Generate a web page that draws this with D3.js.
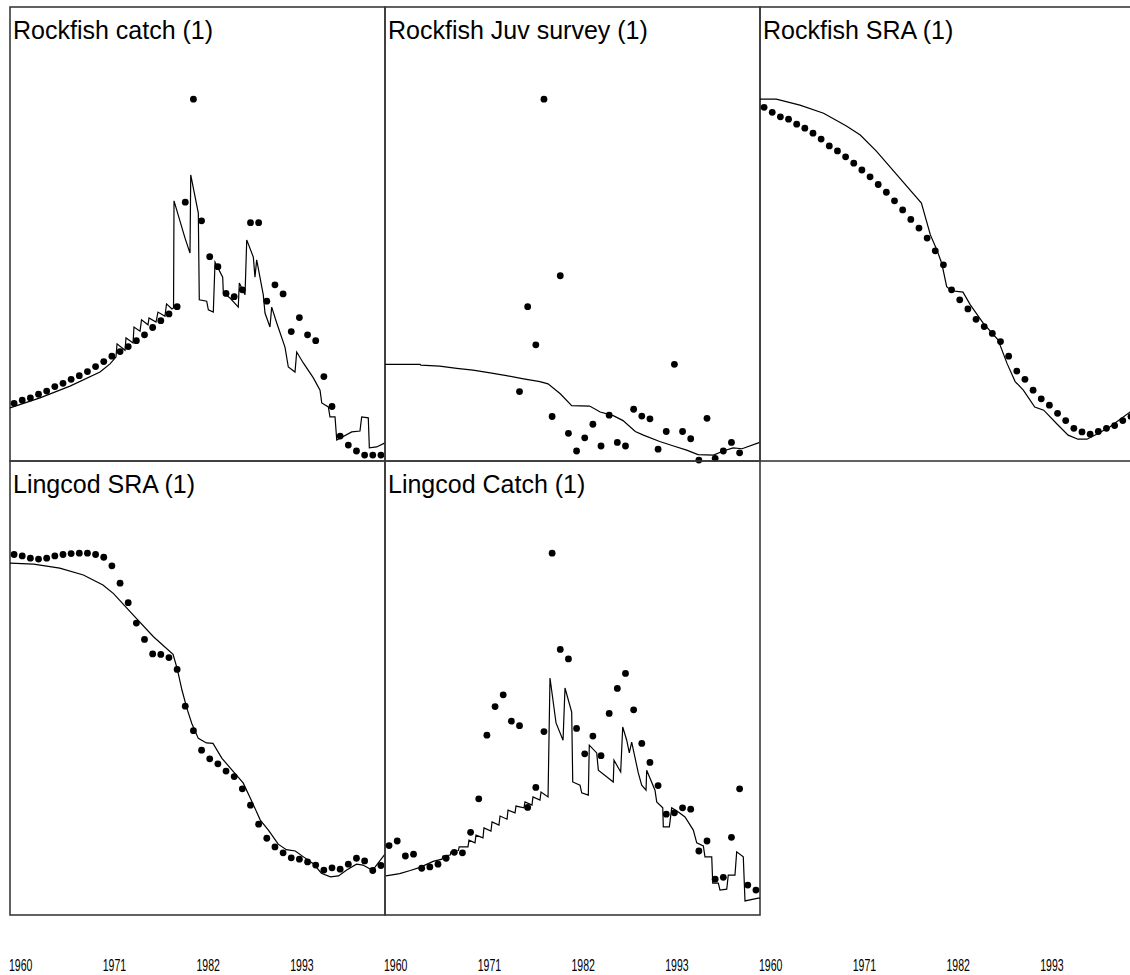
<!DOCTYPE html>
<html>
<head>
<meta charset="utf-8">
<script src="https://cdn.jsdelivr.net/npm/d3@7"></script>
<style>
  html, body { margin: 0; padding: 0; background: #fff; }
  svg { display: block; }
</style>
</head>
<body>
<svg id="chart" width="1130" height="975"></svg>
<script>
// ---------------- DATA ----------------
const obsYears = d3.range(1960, 2006);        // annual observations
const surveyYears = d3.range(1976, 2004);     // juvenile survey years
const tickYears = [1960, 1971, 1982, 1993];

const panelTitles = ["Rockfish catch (1)", "Rockfish Juv survey (1)", "Rockfish SRA (1)",
                     "Lingcod SRA (1)", "Lingcod Catch (1)"];

// observed (relative index, 0-100 per panel)
const rockCatchObs = [12.7,13.4,13.9,14.7,15.4,16.4,17.1,18.0,18.8,19.7,20.8,21.9,23.1,24.1,25.2,26.5,27.8,29.4,30.9,32.4,
  34.0,57.0,79.7,52.9,45.0,42.8,36.9,36.2,37.7,52.5,52.5,35.2,38.8,36.8,28.5,31.6,27.8,26.5,18.6,12.0,5.5,3.5,2.2,1.3,1.3,1.3];
const rockJuvObs = [15.3,34.0,25.6,79.7,9.8,40.8,6.1,2.2,5.1,8.1,3.3,10.1,4.1,3.3,11.4,9.9,9.3,2.6,6.5,21.3,6.5,4.9,0.2,9.4,0.6,2.2,4.1,1.8];
const rockSraObs = [77.9,76.8,75.8,75.3,74.2,73.3,72.2,70.9,69.4,68.3,67.0,65.6,64.1,62.6,60.9,59.2,57.3,55.3,53.2,51.3,
  49.1,46.3,43.2,37.7,35.5,33.5,31.2,29.6,28.1,26.3,23.1,19.8,18.0,15.6,13.7,12.3,10.5,8.9,7.2,6.4,5.9,6.5,7.2,7.8,8.9,9.8];
const lingSraObs = [79.4,79.1,78.6,78.4,78.6,79.1,79.4,79.6,79.7,79.7,79.4,78.8,76.9,73.1,68.8,64.3,60.7,57.5,57.4,56.7,
  54.1,46.0,40.6,36.3,34.4,33.3,31.7,30.5,27.8,24.2,20.0,16.9,15.0,13.7,12.6,12.3,11.7,11.0,9.9,10.4,10.1,11.2,12.5,11.9,9.8,10.9];
const lingCatchObs = [15.3,16.3,13.0,13.4,10.3,10.6,11.2,12.5,13.8,13.7,18.2,25.6,39.6,45.9,48.5,42.7,41.7,23.7,28.1,40.4,
  79.7,58.5,56.4,41.1,35.5,39.4,35.1,44.4,49.9,53.2,45.2,37.8,33.6,28.5,22.2,22.5,23.6,23.3,14.1,16.3,7.9,8.3,17.1,27.8,6.6,5.5];

// fitted / predicted series: [year, value]
const rockCatchFit = [[1959.5,11.7],[1963.18,13.9],[1966.86,16.5],[1970.54,19.6],[1971.77,21.4],[1972.5,22.9],[1972.63,25.8],
  [1973.61,24.4],[1973.73,27.1],[1974.59,26.0],[1974.71,29.5],[1975.45,28.6],[1975.63,31.1],[1976.43,30.0],[1976.55,31.5],
  [1977.41,30.6],[1977.65,32.8],[1978.51,31.9],[1978.7,34.6],[1979.37,33.5],[1979.56,33.7],[1979.62,57.3],[1980.97,49.1],
  [1981.58,45.8],[1981.67,63.0],[1982.6,54.6],[1982.66,44.7],[1982.72,35.5],[1983.63,35.2],[1983.83,33.3],[1984.44,32.8],
  [1984.65,43.8],[1985.59,40.5],[1985.67,37.0],[1986.49,35.9],[1987.5,33.9],[1987.63,39.2],[1988.33,36.6],[1988.54,48.7],
  [1989.35,44.9],[1989.55,40.5],[1989.76,44.3],[1990.57,36.6],[1990.78,32.6],[1991.39,29.5],[1991.6,33.9],[1992.22,30.4],
  [1993.23,25.1],[1993.64,20.7],[1994.46,19.6],[1994.67,24.0],[1995.48,21.6],[1996.71,18.3],[1997.53,15.6],[1997.74,12.8],
  [1998.55,11.9],[1998.75,9.7],[1999.37,9.7],[1999.58,4.6],[2001.42,6.4],[2002.43,6.6],[2002.64,9.7],[2003.45,9.5],
  [2003.58,2.9],[2004.48,3.1],[2005.5,4.0]];
const rockJuvFit = [[1959.5,21.3],[1963.8,21.3],[1963.9,21.1],[1966.2,20.9],[1968.3,20.4],[1970.3,20.0],[1972.4,19.4],
  [1974.4,18.8],[1976.5,18.1],[1978.5,17.5],[1979.5,17.0],[1981.0,14.8],[1982.4,12.2],[1984.6,12.1],[1985.9,10.8],
  [1987.5,10.0],[1988.7,8.9],[1990.2,6.5],[1991.2,5.7],[1993.2,4.3],[1994.9,3.3],[1996.5,2.4],[1997.9,1.4],[1999.8,1.3],
  [2001.0,2.2],[2002.2,2.9],[2003.3,2.7],[2005.3,4.0],[2005.5,4.2]];
const rockSraFit = [[1959.5,79.7],[1961.5,79.7],[1964.4,78.4],[1967.3,76.6],[1970.1,73.8],[1971.8,71.8],[1973.8,68.2],
  [1976.3,63.0],[1979.3,56.8],[1980.4,49.8],[1981.2,46.5],[1981.8,43.5],[1982.4,38.4],[1983.0,37.5],[1984.4,37.2],
  [1985.3,34.4],[1986.9,30.3],[1988.7,26.7],[1989.8,21.5],[1990.8,17.5],[1991.8,15.6],[1993.2,11.9],[1994.3,11.2],
  [1995.9,8.2],[1997.3,5.7],[1998.5,4.8],[1999.6,4.8],[2000.8,5.9],[2002.4,7.5],[2004.9,10.8],[2005.5,11.6]];
const lingSraFit = [[1959.5,77.5],[1962.4,77.3],[1965.6,76.4],[1968.5,74.9],[1970.9,72.7],[1972.2,70.8],[1974.6,66.1],
  [1977.1,61.3],[1979.5,57.4],[1980.0,54.3],[1980.6,49.5],[1981.2,45.5],[1981.8,42.2],[1982.6,38.9],[1983.6,37.9],
  [1984.4,37.8],[1985.5,34.5],[1986.9,31.6],[1988.1,29.1],[1989.1,25.3],[1990.2,20.9],[1991.2,18.7],[1992.4,15.6],
  [1993.4,14.4],[1994.5,14.1],[1995.5,12.8],[1996.7,11.3],[1997.7,9.2],[1998.8,8.4],[1999.8,8.6],[2000.8,9.9],
  [2002.0,11.2],[2002.8,11.0],[2003.9,9.9],[2004.3,10.6],[2005.5,13.4]];
const lingCatchFit = [[1959.6,8.6],[1961.3,9.1],[1962.6,9.8],[1963.8,10.5],[1965.4,11.8],[1966.5,12.3],[1966.6,13.0],
  [1967.5,13.2],[1967.6,14.0],[1968.5,14.2],[1968.6,15.0],[1969.68,15.0],[1969.8,16.5],[1970.54,15.9],[1970.66,17.6],
  [1971.52,17.0],[1971.64,19.2],[1972.5,18.5],[1972.63,20.5],[1973.48,19.8],[1973.61,21.8],[1974.47,21.1],[1974.59,23.1],
  [1975.45,22.5],[1975.57,24.0],[1976.55,23.6],[1976.67,24.9],[1977.53,24.2],[1977.65,26.0],[1978.51,25.3],[1978.64,27.1],
  [1979.5,26.0],[1979.62,39.2],[1979.74,52.2],[1980.48,42.3],[1981.34,38.5],[1981.58,50.0],[1982.4,44.7],[1982.53,29.3],
  [1983.42,28.6],[1983.63,26.9],[1984.44,26.4],[1984.56,37.4],[1985.47,35.7],[1985.67,31.9],[1987.5,29.3],[1987.59,34.1],
  [1988.41,31.5],[1988.66,41.4],[1989.15,38.5],[1989.47,35.7],[1989.76,38.1],[1990.57,31.3],[1990.99,28.6],[1991.52,27.5],
  [1991.6,31.9],[1992.62,27.5],[1992.83,24.9],[1993.57,23.6],[1993.64,19.4],[1994.38,19.4],[1994.67,23.6],[1995.48,22.7],
  [1996.3,21.6],[1997.32,18.7],[1997.74,15.9],[1998.55,15.2],[1998.75,12.8],[1999.58,12.8],[1999.7,7.0],[2000.39,7.0],
  [2000.59,5.5],[2001.42,5.7],[2001.61,8.8],[2002.43,8.8],[2002.64,13.9],[2003.45,12.8],[2003.66,3.1],[2005.29,3.7],[2005.5,3.7]];

// ---------------- LAYOUT ----------------
const W = 1130, H = 975;
const colLeft = [10, 385, 760];
const rowTop = [7, 461];
const pw = 375, ph = 454;

const panels = [
  {title: panelTitles[0], col: 0, row: 0, years: obsYears, obs: rockCatchObs, fit: rockCatchFit},
  {title: panelTitles[1], col: 1, row: 0, years: surveyYears, obs: rockJuvObs, fit: rockJuvFit},
  {title: panelTitles[2], col: 2, row: 0, years: obsYears, obs: rockSraObs, fit: rockSraFit},
  {title: panelTitles[3], col: 0, row: 1, years: obsYears, obs: lingSraObs, fit: lingSraFit},
  {title: panelTitles[4], col: 1, row: 1, years: obsYears, obs: lingCatchObs, fit: lingCatchFit}
];

const svg = d3.select("#chart");
svg.append("rect").attr("width", W).attr("height", H).attr("fill", "#fff");

panels.forEach(p => {
  const x0 = colLeft[p.col], y0 = rowTop[p.row];
  const x = d3.scaleLinear().domain([1959.5, 2005.5]).range([x0, x0 + pw]);
  const y = d3.scaleLinear().domain([0, 100]).range([y0 + ph, y0]);
  const g = svg.append("g");

  g.append("rect")
    .attr("x", x0).attr("y", y0).attr("width", pw).attr("height", ph)
    .attr("fill", "none").attr("stroke", "#3a3a3a").attr("stroke-width", 1.6);

  g.append("text")
    .attr("x", x0 + 3).attr("y", y0 + 32)
    .attr("font-family", "'Liberation Sans', Arial, sans-serif")
    .attr("font-size", 25).attr("fill", "#000")
    .text(p.title);

  const line = d3.line().x(d => x(d[0])).y(d => y(d[1]));
  g.append("path").datum(p.fit)
    .attr("d", line).attr("fill", "none")
    .attr("stroke", "#000").attr("stroke-width", 1.2);

  g.selectAll("circle.obs").data(p.obs).join("circle")
    .attr("class", "obs")
    .attr("cx", (d, i) => x(p.years[i]))
    .attr("cy", d => y(d))
    .attr("r", 3.4).attr("fill", "#000");
});

// bottom year labels (one set per column)
colLeft.forEach(cl => {
  const ax = d3.scaleLinear().domain([1960, 2004]).range([cl, cl + pw]);
  svg.append("g").selectAll("text").data(tickYears).join("text")
    .attr("transform", d => `translate(${ax(d) - 1},971) scale(0.62,1)`)
    .attr("font-family", "'Liberation Sans', Arial, sans-serif")
    .attr("font-size", 17).attr("fill", "#000")
    .text(d => d);
});
</script>
</body>
</html>
